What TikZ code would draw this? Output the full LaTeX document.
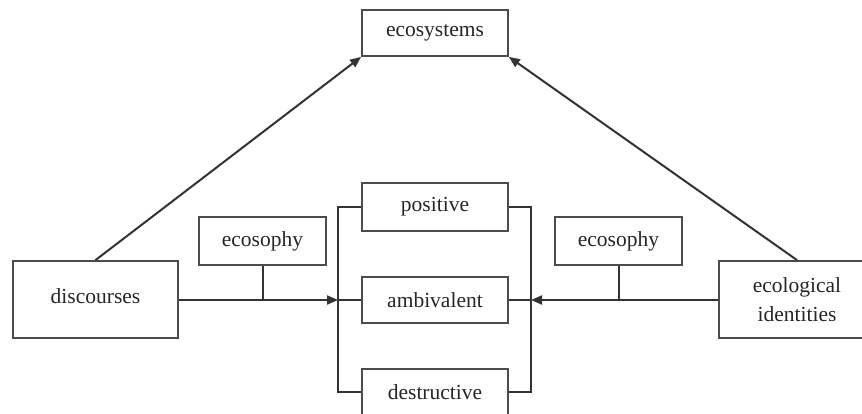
\documentclass[tikz,border=0pt]{standalone}
\usepackage{fontspec}
\setmainfont{Liberation Serif}
\usetikzlibrary{arrows.meta}
\begin{document}
\begin{tikzpicture}[x=1pt,y=-1pt,
  box/.style={draw=black!70,line width=1.8pt,fill=white,inner sep=0pt,align=center,
    font=\fontsize{21.5}{27}\selectfont,text=black!85},
  conn/.style={draw=black!80,line width=2pt},
  arr/.style={conn,-{Triangle[length=11pt,width=9pt]}}]
\useasboundingbox (0,0) rectangle (862,413);
\fill[white] (0,0) rectangle (862,413);
\clip (0,0) rectangle (862,413);
\node[box,minimum width=146pt,minimum height=46pt] (eco) at (435,33) {ecosystems};
\node[box,minimum width=165pt,minimum height=77pt] (disc) at (95.5,299.5) {\raisebox{6pt}{discourses}};
\node[box,minimum width=127pt,minimum height=48pt] (eso1) at (262.5,241) {ecosophy};
\node[box,minimum width=146pt,minimum height=48pt] (pos) at (435,207) {positive};
\node[box,minimum width=146pt,minimum height=46pt] (amb) at (435,300) {ambivalent};
\node[box,minimum width=146pt,minimum height=46pt] (des) at (435,392) {destructive};
\node[box,minimum width=127pt,minimum height=48pt] (eso2) at (618.5,241) {ecosophy};
\node[box,minimum width=156pt,minimum height=77pt] (eid) at (797,299.5) {ecological\\[2pt]identities};
\coordinate (bl) at (338,300);
\coordinate (br) at (531,300);
% brackets
\draw[conn] (pos.west) -| (bl) |- (des.west);
\draw[conn] (pos.east) -| (br) |- (des.east);
\draw[conn] (amb.west) -- (bl);
\draw[conn] (amb.east) -- (br);
% inputs
\draw[arr] (disc.east |- bl) -- (bl);
\draw[conn] (eso1.south) -- (eso1.south |- bl);
\draw[arr] (eid.west |- br) -- (br);
\draw[conn] (eso2.south) -- (eso2.south |- br);
% diagonals
\draw[arr] (disc.north) -- (eco.south west);
\draw[arr] (eid.north) -- (eco.south east);
\end{tikzpicture}
\end{document}
